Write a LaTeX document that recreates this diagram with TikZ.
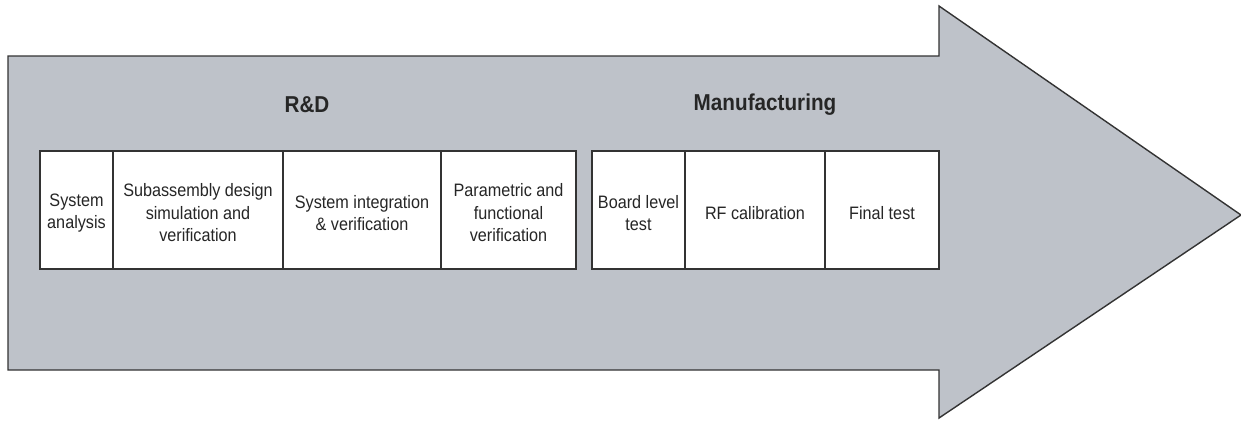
\documentclass[tikz,border=0pt]{standalone}
\usepackage{fontspec}
\setmainfont{Liberation Sans}[FakeStretch=0.9]
\definecolor{arrowgray}{HTML}{BEC2C9}
\definecolor{edgegray}{HTML}{333333}
\begin{document}
\begin{tikzpicture}[x=1pt,y=-1pt,
  stepbox/.style={draw=edgegray, line width=1.4pt, fill=white, inner sep=0pt,
    minimum height=118pt},
  steptext/.style={align=center, inner sep=0pt, yshift=-3pt,
    font=\fontsize{18}{22.5}\selectfont, text=black!85},
  headlabel/.style={font=\fontsize{23}{26}\bfseries\selectfont, text=black!85}]
\useasboundingbox (0,0) rectangle (1241,421);
\draw[fill=arrowgray, draw=edgegray, line width=1.4pt, line join=miter]
  (8,56) -- (939,56) -- (939,6) -- (1241,215) -- (939,418) -- (939,370) -- (8,370) -- cycle;
\node[headlabel] (rd) at (307,105) {R\&D};
\node[headlabel] (mf) at (765,105) {Manufacturing};
\node[stepbox, minimum width=73pt, label={[steptext]center:{System\\analysis}}] (b1) at (76.5,210) {};
\node[stepbox, minimum width=170pt, label={[steptext]center:{Subassembly design\\simulation and\\verification}}] (b2) at (198,210) {};
\node[stepbox, minimum width=158pt, label={[steptext]center:{System integration\\\& verification}}] (b3) at (362,210) {};
\node[stepbox, minimum width=135pt, label={[steptext]center:{Parametric and\\functional\\verification}}] (b4) at (508.5,210) {};
\node[stepbox, minimum width=93pt, label={[steptext]center:{Board level\\test}}] (b5) at (638.5,210) {};
\node[stepbox, minimum width=140pt, label={[steptext]center:{RF calibration}}] (b6) at (755,210) {};
\node[stepbox, minimum width=114pt, label={[steptext]center:{Final test}}] (b7) at (882,210) {};
\end{tikzpicture}
\end{document}
